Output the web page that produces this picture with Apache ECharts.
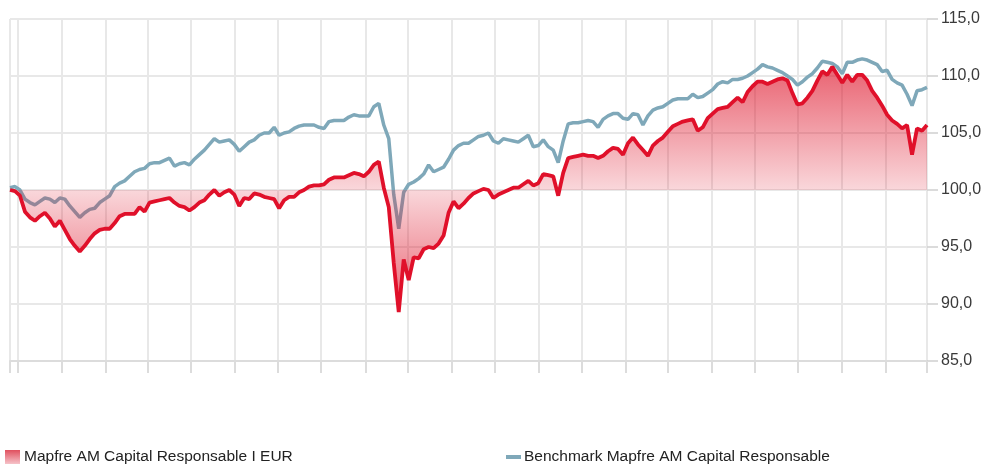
<!DOCTYPE html>
<html>
<head>
<meta charset="utf-8">
<script src="https://cdn.jsdelivr.net/npm/echarts@6/dist/echarts.min.js"></script>
<style>
  html, body { margin: 0; padding: 0; background: #fff; }
  #chart { width: 985px; height: 464px; }
</style>
</head>
<body>
<div id="chart"></div>
<script>
// ---- data (weekly values, start 2018-09-20) ----
const startDate = '2018-09-20';
const endDate = '2022-03-31';
const fundName = 'Mapfre AM Capital Responsable I EUR';
const benchName = 'Benchmark Mapfre AM Capital Responsable';
const yTicks = [85, 90, 95, 100, 105, 110, 115];

const fund = [
  100.0, 99.9, 99.5, 98.1, 97.6, 97.3, 97.7, 98.0, 97.5, 96.8,
  97.3, 96.5, 95.7, 95.1, 94.6, 95.1, 95.7, 96.2, 96.5, 96.6,
  96.6, 97.1, 97.7, 97.9, 97.9, 97.9, 98.5, 98.1, 98.9, 99.0,
  99.1, 99.2, 99.3, 98.9, 98.6, 98.5, 98.2, 98.5, 98.9, 99.1,
  99.6, 100.0, 99.5, 99.8, 100.0, 99.6, 98.6, 99.3, 99.2, 99.7,
  99.6, 99.4, 99.3, 99.2, 98.4, 99.1, 99.4, 99.4, 99.8, 100.0,
  100.3, 100.4, 100.4, 100.5, 100.9, 101.1, 101.1, 101.1, 101.3, 101.5,
  101.4, 101.2, 101.6, 102.2, 102.5, 100.2, 98.5, 93.6, 89.3, 93.9,
  92.1, 94.1, 94.0, 94.8, 95.0, 94.9, 95.3, 96.0, 98.0, 99.0,
  98.4, 98.8, 99.3, 99.7, 99.9, 100.1, 100.0, 99.3, 99.6, 99.8,
  100.0, 100.2, 100.2, 100.5, 100.8, 100.4, 100.6, 101.4, 101.3, 101.2,
  99.5, 101.5, 102.8, 102.9, 103.0, 103.1, 103.0, 103.0, 102.8, 103.0,
  103.4, 103.7, 103.6, 103.1, 104.1, 104.6, 104.0, 103.5, 103.0, 103.9,
  104.3, 104.6, 105.1, 105.6, 105.8, 106.0, 106.1, 106.2, 105.2, 105.5,
  106.3, 106.7, 107.1, 107.2, 107.3, 107.7, 108.1, 107.7, 108.6, 109.1,
  109.5, 109.5, 109.3, 109.5, 109.7, 109.8, 109.6, 108.5, 107.5, 107.6,
  108.1, 108.7, 109.6, 110.4, 110.1, 110.8, 110.1, 109.4, 110.1, 109.5,
  110.1, 110.1, 109.6, 108.7, 108.1, 107.4, 106.6, 106.1, 105.8, 105.4,
  105.7, 103.1, 105.4, 105.2, 105.7
];

const bench = [
  100.2, 100.3, 100.0, 99.2, 98.9, 98.7, 99.0, 99.3, 99.2, 98.9,
  99.3, 99.2, 98.6, 98.1, 97.6, 98.0, 98.3, 98.4, 98.9, 99.2,
  99.5, 100.3, 100.6, 100.8, 101.2, 101.6, 101.8, 101.9, 102.3, 102.4,
  102.4, 102.6, 102.8, 102.1, 102.3, 102.4, 102.2, 102.7, 103.1, 103.5,
  104.0, 104.5, 104.2, 104.3, 104.4, 104.0, 103.4, 103.8, 104.2, 104.4,
  104.8, 105.0, 105.0, 105.5, 104.8, 105.0, 105.1, 105.4, 105.6, 105.7,
  105.7, 105.7, 105.5, 105.4, 106.0, 106.1, 106.1, 106.1, 106.4, 106.6,
  106.5, 106.5, 106.5, 107.3, 107.6, 105.7, 104.5, 99.6, 96.6, 99.8,
  100.5, 100.7, 101.0, 101.4, 102.2, 101.6, 101.8, 102.0, 102.7, 103.5,
  103.9, 104.1, 104.1, 104.4, 104.7, 104.8, 105.0, 104.3, 104.1, 104.5,
  104.4, 104.3, 104.2, 104.5, 104.8, 103.8, 103.9, 104.4, 103.8, 103.5,
  102.4, 104.3, 105.8, 105.9, 105.9, 106.0, 106.1, 106.0, 105.5, 106.2,
  106.5, 106.7, 106.7, 106.3, 106.2, 106.7, 106.6, 105.7, 106.5, 107.0,
  107.2, 107.3, 107.6, 107.9, 108.0, 108.0, 108.0, 108.4, 108.1, 108.2,
  108.5, 108.8, 109.3, 109.5, 109.4, 109.7, 109.7, 109.8, 110.0, 110.3,
  110.6, 111.0, 110.8, 110.7, 110.5, 110.3, 110.0, 109.7, 109.2, 109.5,
  109.9, 110.2, 110.7, 111.3, 111.2, 111.1, 110.8, 110.2, 111.2, 111.2,
  111.4, 111.5, 111.4, 111.2, 111.0, 110.4, 110.5, 109.7, 109.4, 109.2,
  108.4, 107.4, 108.7, 108.8, 109.0
];

// ---- categories ----
function fmt(d) {
  const m = d.getUTCMonth() + 1, day = d.getUTCDate();
  return d.getUTCFullYear() + '-' + (m < 10 ? '0' : '') + m + '-' + (day < 10 ? '0' : '') + day;
}
const days = [];
for (let d = new Date(startDate + 'T00:00:00Z'); fmt(d) <= endDate; d.setUTCDate(d.getUTCDate() + 1)) days.push(fmt(d));
const weeks = [];
for (let i = 0; i < fund.length; i++) {
  const d = new Date(startDate + 'T00:00:00Z'); d.setUTCDate(d.getUTCDate() + 7 * i); weeks.push(fmt(d));
}
// ticks on the first day of every second month, plus the ends
function isTick(idx, val) {
  if (idx === 0 || idx === days.length - 1) return true;
  const m = parseInt(val.slice(5, 7), 10);
  return val.slice(8) === '01' && m % 2 === 0;
}

const FONT = "'Liberation Sans', Arial, sans-serif";
const chart = echarts.init(document.getElementById('chart'), null, { renderer: 'canvas' });

const gridTop = 19, gridBottom = 103;
const chartH = 464;
const red = '#e0102a';
const blue = '#7fa8b9';
const areaGrad = new echarts.graphic.LinearGradient(0, gridTop, 0, chartH - gridBottom, [
  { offset: 0, color: 'rgba(222,18,40,0.85)' },
  { offset: 0.5, color: 'rgba(222,18,40,0.17)' },
  { offset: 1, color: 'rgba(222,18,40,0.85)' }
], true);

chart.setOption({
  animation: false,
  backgroundColor: '#ffffff',
  grid: { left: 10, right: 58, top: gridTop, bottom: gridBottom },
  legend: [
    {
      left: 5, top: 449, padding: 0, itemWidth: 15, itemHeight: 14, icon: 'rect',
      textStyle: { fontFamily: FONT, fontSize: 15.5, color: '#222', padding: [0, 0, 0, -1] },
      data: [{ name: fundName, itemStyle: { color: new echarts.graphic.LinearGradient(0, 0, 0, 1, [
        { offset: 0, color: '#e0505e' }, { offset: 1, color: '#f6c3c9' }]) } }]
    },
    {
      left: 506, top: 449, padding: 0, itemWidth: 15, itemHeight: 4, icon: 'rect',
      textStyle: { fontFamily: FONT, fontSize: 15.5, color: '#222', padding: [0, 0, 0, -2] },
      data: [{ name: benchName, itemStyle: { color: blue } }]
    }
  ],
  xAxis: [
    {
      type: 'category', data: days, boundaryGap: false,
      axisLine: { show: true, lineStyle: { color: '#dcdcdc', width: 2 } },
      axisTick: { show: true, interval: isTick, length: 12, lineStyle: { color: '#dcdcdc', width: 2 } },
      axisLabel: { show: false },
      splitLine: { show: true, interval: isTick, lineStyle: { color: '#e8e8e8', width: 2 } }
    },
    { type: 'category', data: weeks, boundaryGap: false, show: false, position: 'bottom' }
  ],
  yAxis: {
    type: 'value', position: 'right', min: yTicks[0], max: yTicks[yTicks.length - 1], interval: 5,
    axisLine: { show: false },
    axisTick: { show: true, length: 11, lineStyle: { color: '#cfcfcf', width: 1.5 } },
    axisLabel: { margin: 14, fontFamily: FONT, fontSize: 16, color: '#3a3a3a',
      formatter: v => v.toFixed(1).replace('.', ',') },
    splitLine: { show: true, lineStyle: { color: '#e8e8e8', width: 2 } }
  },
  series: [
    {
      name: benchName, type: 'line', xAxisIndex: 1, data: bench, symbol: 'none', smooth: false,
      lineStyle: { color: blue, width: 3.5 }, itemStyle: { color: blue }, z: 2
    },
    {
      name: fundName, type: 'line', xAxisIndex: 1, data: fund, symbol: 'none', smooth: false,
      lineStyle: { color: red, width: 3.8 }, itemStyle: { color: red },
      areaStyle: { origin: 100, color: areaGrad, opacity: 1 }, z: 3
    }
  ]
});
</script>
</body>
</html>
